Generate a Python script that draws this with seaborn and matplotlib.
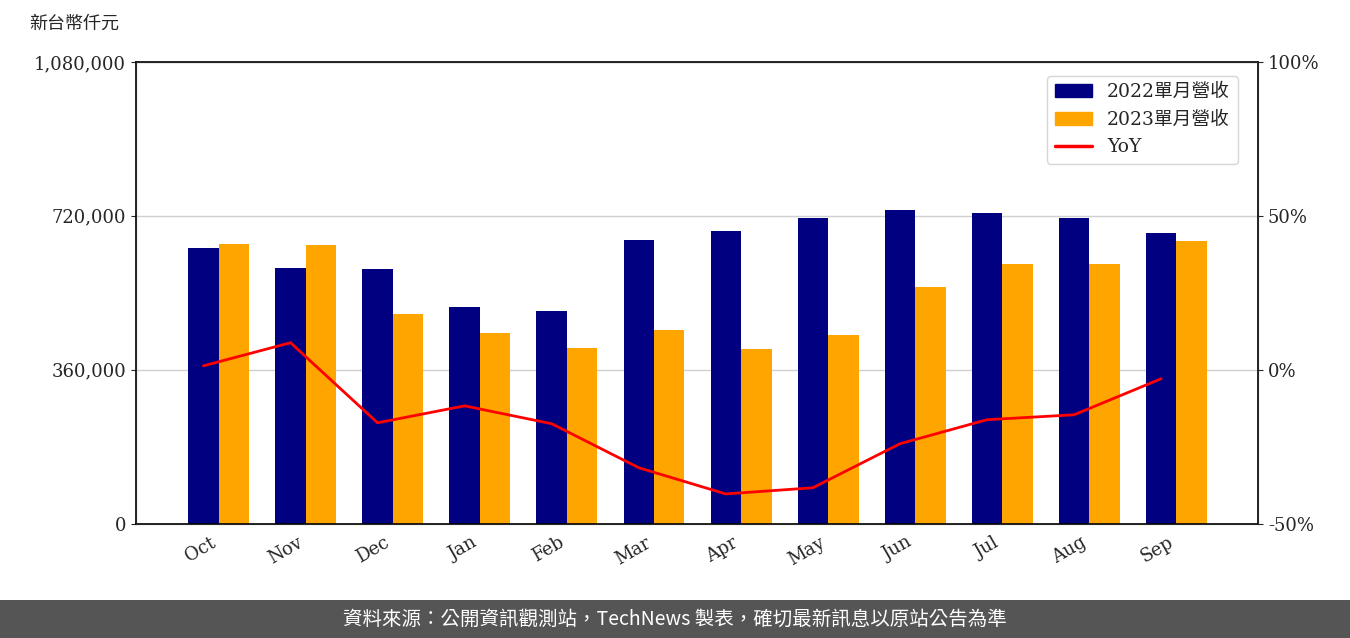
import matplotlib
matplotlib.use("Agg")
import matplotlib.pyplot as plt
import seaborn as sns
import pandas as pd

months = ["Oct", "Nov", "Dec", "Jan", "Feb", "Mar", "Apr", "May", "Jun", "Jul", "Aug", "Sep"]
rev_2022 = [645000, 598000, 596000, 507000, 498000, 664000, 685000, 715000, 734000, 727000, 715000, 680000]
rev_2023 = [655000, 652000, 491000, 447000, 411000, 454000, 409000, 442000, 554000, 608000, 608000, 662000]
yoy = [1.3, 8.8, -17.2, -11.7, -17.5, -31.8, -40.3, -38.3, -24.0, -16.2, -14.6, -2.9]

label_22 = "2022單月營收"
label_23 = "2023單月營收"

sns.set_style("white")
plt.rcParams['font.family'] = ['DejaVu Serif', 'Noto Sans CJK TC']

df = pd.DataFrame({
    "month": months * 2,
    "rev": rev_2022 + rev_2023,
    "series": [label_22] * 12 + [label_23] * 12,
})

fig = plt.figure(figsize=(13.5, 6.38), dpi=100)
ax = fig.add_axes([0.1007, 0.179, 0.8313, 0.724])
sns.barplot(data=df, x="month", y="rev", hue="series", palette=["#000080", "#FFA500"],
            width=0.7, ax=ax, saturation=1, legend=False, linewidth=0, edgecolor="none")
ax.set_ylim(0, 1080000)
ax.set_yticks([0, 360000, 720000, 1080000])
ax.set_yticklabels([f"{v:,}" for v in [0, 360000, 720000, 1080000]], fontsize=13)
ax.yaxis.grid(True, color="#d0d0d0", linewidth=1)
ax.set_axisbelow(True)
ax.set_xlabel("")
ax.set_ylabel("")
ax.set_xlim(-0.95, 11.94)
plt.setp(ax.get_xticklabels(), rotation=30, ha="right", fontsize=13)
for s in ax.spines.values():
    s.set_color("black")
    s.set_linewidth(1.2)

ax2 = ax.twinx()
sns.lineplot(x=[i - 0.175 for i in range(12)], y=yoy, color="red", linewidth=2, ax=ax2, legend=False)
ax2.set_ylim(-50, 100)
ax2.set_yticks([-50, 0, 50, 100])
ax2.set_yticklabels(["-50%", "0%", "50%", "100%"], fontsize=13)

handles = [plt.Rectangle((0, 0), 1, 1, color="#000080"),
           plt.Rectangle((0, 0), 1, 1, color="#FFA500"),
           plt.Line2D([0], [0], color="red", linewidth=2.5)]
ax2.legend(handles, [label_22, label_23, "YoY"], loc="upper right", bbox_to_anchor=(0.99, 0.99),
           prop={"family": ["DejaVu Serif", "Noto Sans CJK TC"], "size": 13.5})

fig.text(0.022, 0.955, "新台幣仟元", fontsize=13, family=["Noto Sans CJK TC"])

footer = fig.add_axes([0, 0, 1, 0.06])
footer.set_facecolor("#555555")
footer.set_xticks([])
footer.set_yticks([])
for s in footer.spines.values():
    s.set_visible(False)
footer.text(0.5, 0.5, "資料來源：公開資訊觀測站，TechNews 製表，確切最新訊息以原站公告為準",
            color="white", ha="center", va="center", fontsize=14,
            family=["Noto Sans CJK TC", "DejaVu Sans"])

fig.savefig("out.png", dpi=100)
